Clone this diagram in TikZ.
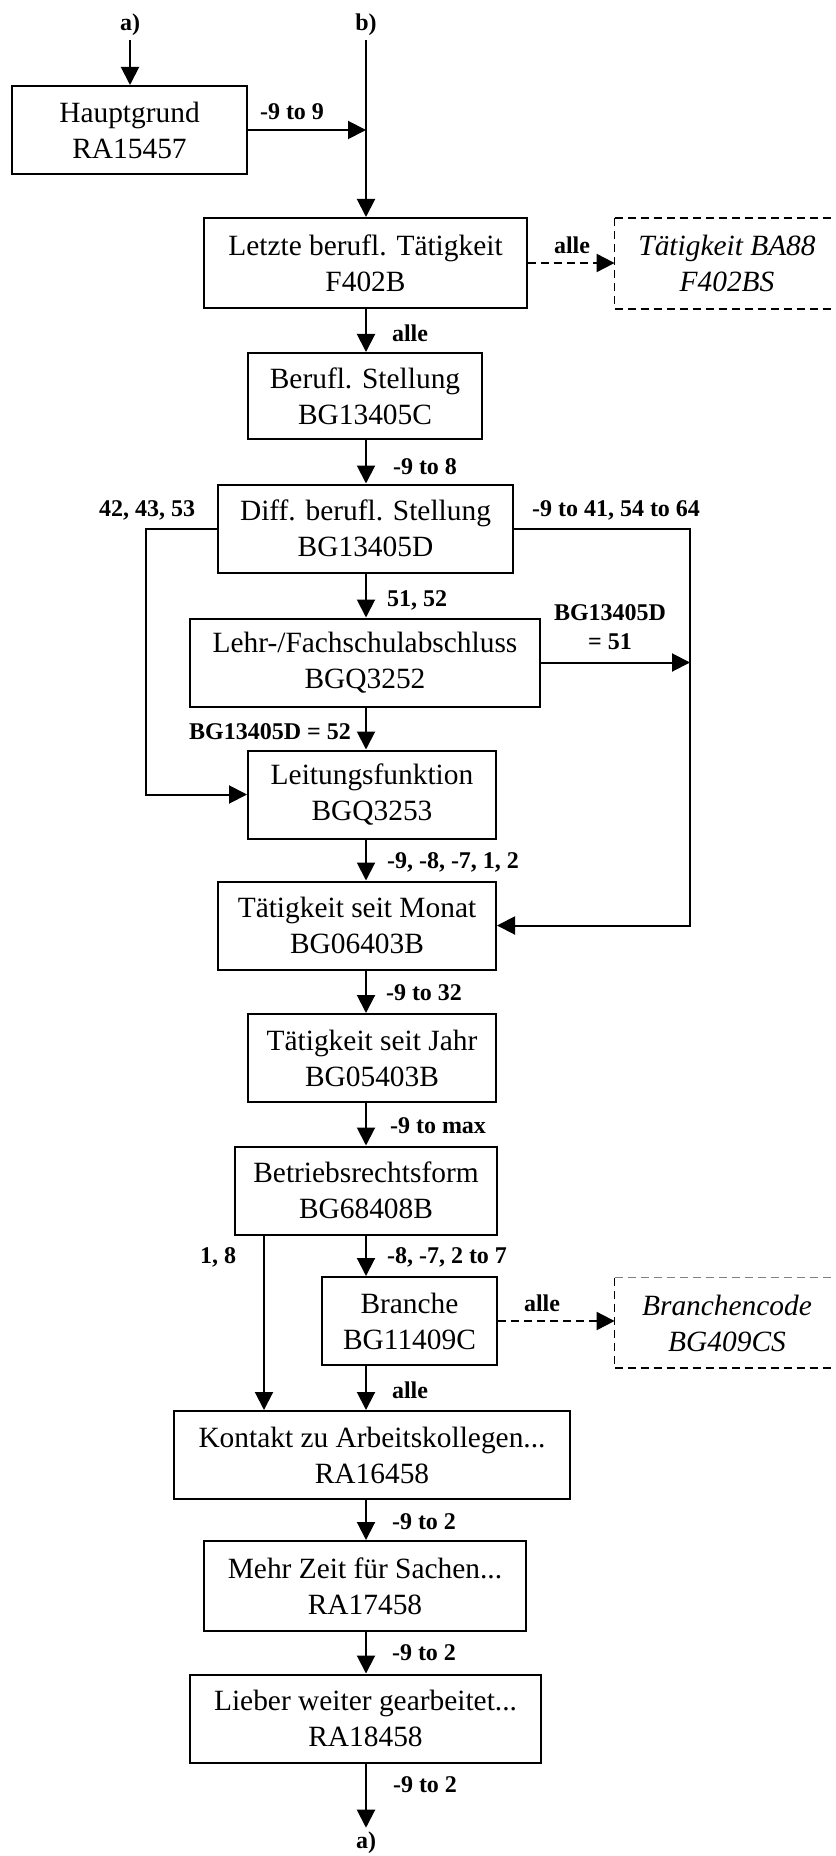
\documentclass[tikz,border=0pt]{standalone}
\usepackage{fontspec}
\setmainfont{Liberation Serif}
\usetikzlibrary{arrows.meta}
\tikzset{
	>={Triangle[length=9pt,width=9pt]},
	box/.style={
		rectangle,
		draw=black, line width=1pt,
		align=center,
		minimum height=44pt,
		inner sep=0pt,
		font=\fontsize{14.7}{18}\selectfont},
	extbox/.style={
		rectangle,
		align=center,
		minimum height=45pt,
		minimum width=112pt,
		inner sep=0pt,
		font=\fontsize{14.7}{18}\selectfont\itshape},
	lbl/.style={font=\fontsize{12}{14.5}\selectfont\bfseries, inner sep=2pt, align=center},
	line/.style={draw, line width=1pt, ->},
	dline/.style={draw, line width=1pt, ->, dash pattern=on 4pt off 2.5pt},
	dedge/.style={draw, line width=1pt, dash pattern=on 4pt off 2.5pt},
	dthin/.style={draw, line width=0.5pt, dash pattern=on 4pt off 2.5pt},
}
\begin{document}
\begin{tikzpicture}[x=0.5pt, y=-0.5pt]
	\useasboundingbox (0,0) rectangle (835,1856);
	\coordinate (col) at (366,0);
	\coordinate (lcol) at (146,0);
	\coordinate (rcol) at (690,0);
	\coordinate (bcol) at (264,0);
	% entry and exit marks
	\node[lbl] (ina) at (130,25) {a)};
	\node[lbl] (inb) at (366,25) {b)};
	\node[lbl] (outa) at (366,1843) {a)};
	% boxes
	\node[box, minimum width=117.5pt] (haupt) at (129.5,130) {Hauptgrund\\RA15457};
	\node[box, minimum width=161.5pt, minimum height=45pt] (letzte) at (365.5,263) {Letzte berufl. Tätigkeit\\F402B};
	\node[extbox] (ba88) at (727,263.5) {Tätigkeit BA88\\F402BS};
	\node[box, minimum width=117pt, minimum height=43pt] (berufl) at (365,396) {Berufl. Stellung\\BG13405C};
	\node[box, minimum width=147.5pt] (diff) at (365.5,528.5) {Diff. berufl. Stellung\\BG13405D};
	\node[box, minimum width=175pt] (lehr) at (365,662.5) {Lehr-/Fachschulabschluss\\BGQ3252};
	\node[box, minimum width=124pt] (leitung) at (372,794.5) {Leitungsfunktion\\BGQ3253};
	\node[box, minimum width=139pt] (monat) at (357,925.5) {Tätigkeit seit Monat\\BG06403B};
	\node[box, minimum width=124pt] (jahr) at (372,1058) {Tätigkeit seit Jahr\\BG05403B};
	\node[box, minimum width=131pt] (betrieb) at (366,1190.5) {Betriebsrechtsform\\BG68408B};
	\node[box, minimum width=87.5pt] (branche) at (409.5,1321) {Branche\\BG11409C};
	\node[extbox] (bcode) at (727,1323) {Branchencode\\BG409CS};
	\node[box, minimum width=198pt] (kontakt) at (372,1455) {Kontakt zu Arbeitskollegen...\\RA16458};
	\node[box, minimum width=161pt, minimum height=45pt] (mehr) at (365,1586) {Mehr Zeit für Sachen...\\RA17458};
	\node[box, minimum width=175.5pt] (lieber) at (365.5,1718.5) {Lieber weiter gearbeitet...\\RA18458};
	% dashed frames of the outer boxes, open to the right
	\draw[dthin] (ba88.north west) -- (ba88.south west);
	\draw[dedge] (ba88.north west) -- (ba88.north east);
	\draw[dedge] (ba88.south west) -- (ba88.south east);
	\draw[dthin] (bcode.north west) -- (bcode.south west);
	\draw[dthin, draw=gray] (bcode.north west) -- (bcode.north east);
	\draw[dedge] (bcode.south west) -- (bcode.south east);
	% connectors
	\draw[line] (ina.south) -- (ina.south |- haupt.north);
	\draw[line] (haupt.east) -- (haupt.east -| col);
	\draw[line] (inb.south) -- (letzte.north -| col);
	\draw[dline] (letzte.east) -- (letzte.east -| ba88.west);
	\draw[line] (letzte.south -| col) -- (berufl.north -| col);
	\draw[line] (berufl.south -| col) -- (diff.north -| col);
	\draw[line] (diff.west) -- (diff.west -| lcol) |- (leitung.west);
	\draw[line] (diff.east) -- (diff.east -| rcol) |- (monat.east);
	\draw[line] (diff.south -| col) -- (lehr.north -| col);
	\draw[line] (lehr.east) -- (lehr.east -| rcol);
	\draw[line] (lehr.south -| col) -- (leitung.north -| col);
	\draw[line] (leitung.south -| col) -- (monat.north -| col);
	\draw[line] (monat.south -| col) -- (jahr.north -| col);
	\draw[line] (jahr.south -| col) -- (betrieb.north -| col);
	\draw[line] (betrieb.south -| bcol) -- (kontakt.north -| bcol);
	\draw[line] (betrieb.south -| col) -- (branche.north -| col);
	\draw[dline] (branche.east) -- (branche.east -| bcode.west);
	\draw[line] (branche.south -| col) -- (kontakt.north -| col);
	\draw[line] (kontakt.south -| col) -- (mehr.north -| col);
	\draw[line] (mehr.south -| col) -- (lieber.north -| col);
	\draw[line] (lieber.south -| col) -- (outa.north);
	% value labels
	\node[lbl] (vhaupt) at (292,112) {-9 to 9};
	\node[lbl] (vba88) at (572,245) {alle};
	\node[lbl] (vberufl) at (410,333) {alle};
	\node[lbl] (vdiff) at (425,467) {-9 to 8};
	\node[lbl] (vleft) at (147,510) {42, 43, 53};
	\node[lbl] (vright) at (616,510) {-9 to 41, 54 to 64};
	\node[lbl] (vlehr) at (417,600) {51, 52};
	\node[lbl] (vlehrr) at (610,627) {BG13405D\\= 51};
	\node[lbl] (vleitung) at (270,732) {BG13405D = 52};
	\node[lbl] (vmonat) at (453,862) {-9, -8, -7, 1, 2};
	\node[lbl] (vjahr) at (424,993) {-9 to 32};
	\node[lbl] (vbetrieb) at (438,1126) {-9 to max};
	\node[lbl] (veins) at (218,1257) {1, 8};
	\node[lbl] (vbranche) at (447,1257) {-8, -7, 2 to 7};
	\node[lbl] (vbcode) at (542,1303) {alle};
	\node[lbl] (vkontakt) at (410,1390) {alle};
	\node[lbl] (vmehr) at (424,1522) {-9 to 2};
	\node[lbl] (vlieber) at (424,1653) {-9 to 2};
	\node[lbl] (vout) at (425,1785) {-9 to 2};
\end{tikzpicture}
\end{document}
